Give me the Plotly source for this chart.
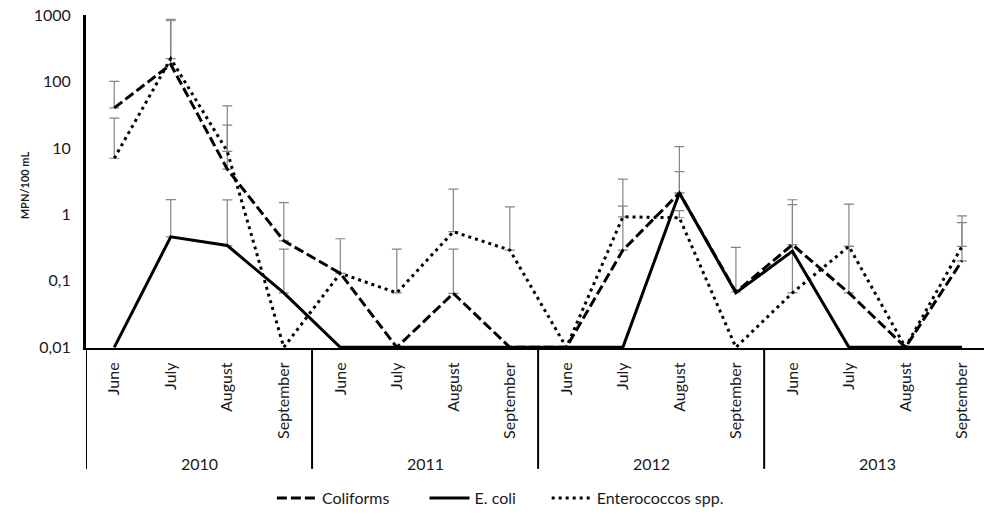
import plotly.graph_objects as go

# Sampling campaign: four summer months in each of four years
years = ["2010", "2011", "2012", "2013"]
months = ["June", "July", "August", "September"]

# Mean counts (MPN/100 mL); 0.01 marks samples below detection
coliforms = [40, 180, 4.8, 0.4, 0.13, 0.01, 0.065, 0.01,
             0.01, 0.29, 2.1, 0.068, 0.35, 0.066, 0.01, 0.2]
ecoli = [0.01, 0.46, 0.34, 0.066, 0.01, 0.01, 0.01, 0.01,
         0.01, 0.01, 2.1, 0.066, 0.28, 0.01, 0.01, 0.01]
enterococci = [7, 220, 8.9, 0.01, 0.13, 0.066, 0.55, 0.29,
               0.01, 0.92, 0.89, 0.01, 0.066, 0.33, 0.01, 0.33]

# Upper end of the standard-deviation bar (None = no bar)
coliforms_upper = [100, 820, 22, 1.5, None, None, 0.30, None,
                   None, 1.33, 10.5, 0.32, 1.66, 0.33, None, 0.75]
ecoli_upper = [None, 1.67, 1.65, 0.30, None, None, None, None,
               None, None, 4.4, None, None, None, None, None]
enterococci_upper = [28, 860, 43, None, 0.43, 0.30, 2.4, 1.3,
                     None, 3.4, 1.14, None, 1.4, 1.43, None, 0.95]

FONT = "Lato"
INK = "#1a1a1a"
SIZE = 16

x_idx = list(range(len(years) * len(months)))
tick_text = months * len(years)

# name, values, upper bar ends, dash pattern, legend id, legend x (paper)
series = [
    ("Coliforms", coliforms, coliforms_upper, "10px,4px", "legend", 0.207),
    ("E. coli", ecoli, ecoli_upper, "solid", "legend2", 0.377),
    ("Enterococcos spp.", enterococci, enterococci_upper, "3px,4px", "legend3", 0.513),
]

fig = go.Figure()

# Error bars first so the lines sit on top of them
for name, vals, upper, *_ in series:
    xs, ys, plus = [], [], []
    for i, (v, u) in enumerate(zip(vals, upper)):
        if u is not None:
            xs.append(i)
            ys.append(v)
            plus.append(u - v)
    fig.add_trace(go.Scatter(
        x=xs, y=ys, mode="markers",
        marker=dict(size=1, color="rgba(0,0,0,0)"),
        error_y=dict(type="data", symmetric=False, array=plus,
                     arrayminus=[0] * len(plus), color="#858585",
                     thickness=1.2, width=5),
        showlegend=False, hoverinfo="skip",
    ))

legends = {}
for name, vals, _, dash, leg, lx in series:
    fig.add_trace(go.Scatter(
        x=x_idx, y=vals, mode="lines", name=name, legend=leg,
        line=dict(color="black", width=3, dash=dash),
    ))
    legends[leg] = dict(orientation="h", x=lx, y=-0.452, xanchor="left",
                        yanchor="middle", itemwidth=40,
                        font=dict(family=FONT, size=SIZE, color=INK))

# Year group dividers below the month labels
for k in range(len(years)):
    fig.add_shape(type="line", xref="x", yref="paper",
                  x0=k * 4 - 0.5, x1=k * 4 - 0.5, y0=0, y1=-0.363,
                  line=dict(color="black", width=2))
    fig.add_annotation(x=k * 4 + 1.5, y=-0.347, xref="x", yref="paper",
                       text=years[k], showarrow=False,
                       font=dict(family=FONT, size=SIZE, color=INK),
                       yanchor="middle")

# Y axis title
fig.add_annotation(x=-0.078, y=0.49, xref="paper", yref="paper",
                   text="<b>MPN/100 mL</b>", textangle=-90, showarrow=False,
                   font=dict(family=FONT, size=11, color=INK))

fig.update_layout(
    width=984, height=515,
    margin=dict(l=86, r=0, t=15, b=164),
    paper_bgcolor="white", plot_bgcolor="white",
    font=dict(family=FONT, size=SIZE, color=INK),
    showlegend=True,
    xaxis=dict(
        range=[-0.5, 15.39], tickmode="array", tickvals=x_idx,
        ticktext=tick_text, tickangle=-90, showgrid=False, zeroline=False,
        showline=True, linecolor="black", linewidth=2, ticks="",
        ticklabelstandoff=6,
        tickfont=dict(family=FONT, size=SIZE, color=INK),
    ),
    yaxis=dict(
        type="log", range=[-2.01, 3], tickmode="array",
        tickvals=[0.01, 0.1, 1, 10, 100, 1000],
        ticktext=["0,01", "0,1", "1", "10", "100", "1000"],
        showgrid=False, zeroline=False, showline=True, linecolor="black",
        linewidth=3, ticks="", ticklabelstandoff=9,
        tickfont=dict(family=FONT, size=SIZE, color=INK),
    ),
    **legends,
)

fig.write_html("out.html")
